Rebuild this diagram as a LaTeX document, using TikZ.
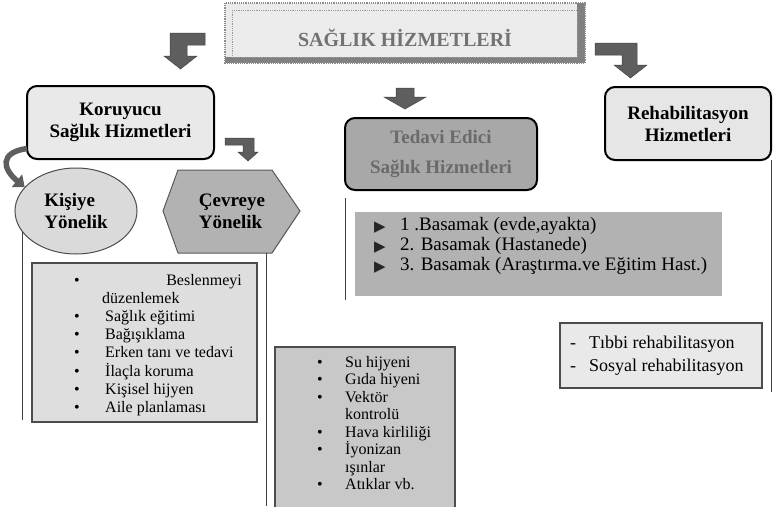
\documentclass[tikz,border=0pt]{standalone}
\usepackage{fontspec}
\setmainfont{Liberation Serif}
\newfontfamily\symfont{DejaVu Sans}
\usepackage{xcolor}
\usetikzlibrary{shapes.geometric, arrows.meta, positioning}

\definecolor{arrgray}{HTML}{5E5E5E}
\definecolor{titlefill}{HTML}{EBEBEB}
\definecolor{titletxt}{HTML}{727272}
\definecolor{korfill}{HTML}{E9E9E9}
\definecolor{kisfill}{HTML}{DADADA}
\definecolor{cevfill}{HTML}{B2B2B2}
\definecolor{tedfill}{HTML}{A8A8A8}
\definecolor{tedtxt}{HTML}{6A6A6A}
\definecolor{rehfill}{HTML}{E6E6E6}
\definecolor{basfill}{HTML}{B2B2B2}
\definecolor{klistfill}{HTML}{DEDEDE}
\definecolor{clistfill}{HTML}{C8C8C8}
\definecolor{rlistfill}{HTML}{E9E9E9}

\begin{document}
\begin{tikzpicture}[x=1pt, y=-1pt,
  headbox/.style  = {draw, line width=2pt, rounded corners=10pt, align=center,
                     inner sep=0pt, outer sep=0pt,
                     font=\fontsize{19}{22}\selectfont\bfseries},
  listbox/.style  = {draw=black!70, line width=1.2pt},
  ltxt/.style     = {anchor=base west, inner sep=0pt,
                     font=\fontsize{16}{18}\selectfont},
  bul/.style      = {anchor=base, inner sep=0pt,
                     font=\fontsize{16}{18}\selectfont},
  blockarr/.style = {fill=arrgray, draw=black!75, line width=0.5pt},
  vline/.style    = {draw=black!75, line width=1pt},
]

\useasboundingbox (0,0) rectangle (773,506);

%% -- BASLIK --------------------------------------------------------------
\fill[titlefill] (225,3) rectangle (585,63);
\fill[black!50] (577,3) rectangle (585,63);
\fill[black!50] (225,57) rectangle (585,63);
\draw[densely dotted, black!45, line width=1.2pt] (225,3) rectangle (585,63);
\draw[densely dotted, black!40, line width=0.8pt] (232,10) rectangle (577,57);
\node[anchor=base, font=\fontsize{20}{24}\selectfont\bfseries, text=titletxt]
     (title) at (405,46) {SAĞLIK HİZMETLERİ};

%% -- blok oklar ----------------------------------------------------------
\filldraw[blockarr] (205,33) -- (170,33) -- (170,56) -- (164,56) -- (180.5,69)
     -- (197,56) -- (187,56) -- (187,45) -- (205,45) -- cycle;
\filldraw[blockarr] (396,88) -- (414,88) -- (414,97) -- (426,97) -- (405,109)
     -- (384,97) -- (396,97) -- cycle;
\filldraw[blockarr] (595,43) -- (637,43) -- (637,65) -- (647,65) -- (630.5,78)
     -- (614,65) -- (622,65) -- (622,55) -- (595,55) -- cycle;
\filldraw[blockarr] (225,138) -- (254,138) -- (254,152) -- (258,152) -- (248,161)
     -- (238,152) -- (243,152) -- (243,145) -- (225,145) -- cycle;

%% -- ANA KUTULAR ---------------------------------------------------------
\node[headbox, fill=korfill, minimum width=187pt, minimum height=73pt]
     (kor) at (120.5,122.5) {Koruyucu\\Sağlık Hizmetleri};
\node[headbox, fill=tedfill, text=tedtxt, minimum width=192pt, minimum height=72pt,
      font=\fontsize{19}{30}\selectfont\bfseries]
     (ted) at (441,154) {Tedavi Edici\\Sağlık Hizmetleri};
\node[headbox, fill=rehfill, minimum width=166pt, minimum height=73pt]
     (reh) at (688,123.5) {Rehabilitasyon\\Hizmetleri};

%% -- KORUYUCU alt dallari ------------------------------------------------
\node[ellipse, draw=black!70, line width=1pt, fill=kisfill,
      minimum width=122pt, minimum height=86pt, inner sep=0pt, align=left,
      font=\fontsize{19}{22}\selectfont\bfseries]
     (kis) at (76,211) {Kişiye\\Yönelik};
\draw[arrgray, line width=5.5pt, -{Triangle[length=10pt, width=16pt]}]
     ([yshift=-26pt]kor.west) .. controls +(-28,4) and +(-22,-18) .. (kis.155);

\filldraw[fill=cevfill, draw=black!65, line width=1pt] (178,170) -- (272,170)
     -- (300,211) -- (272,253) -- (178,253) -- (163,211) -- cycle;
\node[align=left, inner sep=0pt, font=\fontsize{19}{22}\selectfont\bfseries]
     (cev) at (232,211) {Çevreye\\Yönelik};

%% -- dikey cizgiler ------------------------------------------------------
\draw[vline] (22,231) -- (22,420);
\draw[vline] (266,253) -- (266,506);
\draw[vline] (345,198) -- (345,300);
\draw[vline] (771,160) -- (771,392);

%% -- Kisiye yonelik liste ------------------------------------------------
\filldraw[listbox, fill=klistfill] (32,263) rectangle (257,422);
\node[bul] at (77,285) {\textbullet};
\node[ltxt, anchor=base east] (k0) at (242,285) {Beslenmeyi};
\node[ltxt] (k0b) at (102,303) {düzenlemek};
\foreach \t [count=\i] in {Sağlık eğitimi, Bağışıklama, Erken tanı ve tedavi,
                           İlaçla koruma, Kişisel hijyen, Aile planlaması}{
  \node[bul] at (77, 303+18.3*\i) {\textbullet};
  \node[ltxt] (k\i) at (105, 303+18.3*\i) {\t};
}

%% -- Cevreye yonelik liste -----------------------------------------------
\filldraw[listbox, fill=clistfill] (275,347) rectangle (455,508);
\foreach \t/\b [count=\i] in {Su hijyeni/1, Gıda hiyeni/1, Vektör/1, kontrolü/0,
                              Hava kirliliği/1, İyonizan/1, ışınlar/0, Atıklar vb./1}{
  \ifnum\b=1 \node[bul] at (320, 349.5+17.5*\i) {\textbullet}; \fi
  \node[ltxt] (c\i) at (345, 349.5+17.5*\i) {\t};
}

%% -- Basamaklar ----------------------------------------------------------
\filldraw[fill=basfill, draw=black!30, line width=0.8pt] (355,212) rectangle (721,295);
\foreach \t [count=\i] in {{1 .Basamak (evde,ayakta)}, {2. Basamak (Hastanede)},
                           {3. Basamak (Araştırma.ve Eğitim Hast.)}}{
  \node[ltxt, font=\fontsize{19}{21}\selectfont] (b\i) at (400, 210+20*\i) {\t};
  \node[anchor=base, inner sep=0pt, font=\symfont\fontsize{15}{17}\selectfont,
        text=black!85] at (380, 211+20*\i) {▶};
}

%% -- Rehabilitasyon liste ------------------------------------------------
\filldraw[listbox, fill=rlistfill] (560,323) rectangle (762,388);
\foreach \t [count=\i] in {Tıbbi rehabilitasyon, Sosyal rehabilitasyon}{
  \node[bul, font=\fontsize{18}{22}\selectfont] at (573, 325+23*\i) {-};
  \node[ltxt, font=\fontsize{18}{22}\selectfont] (r\i) at (589, 325+23*\i) {\t};
}

\end{tikzpicture}
\end{document}
